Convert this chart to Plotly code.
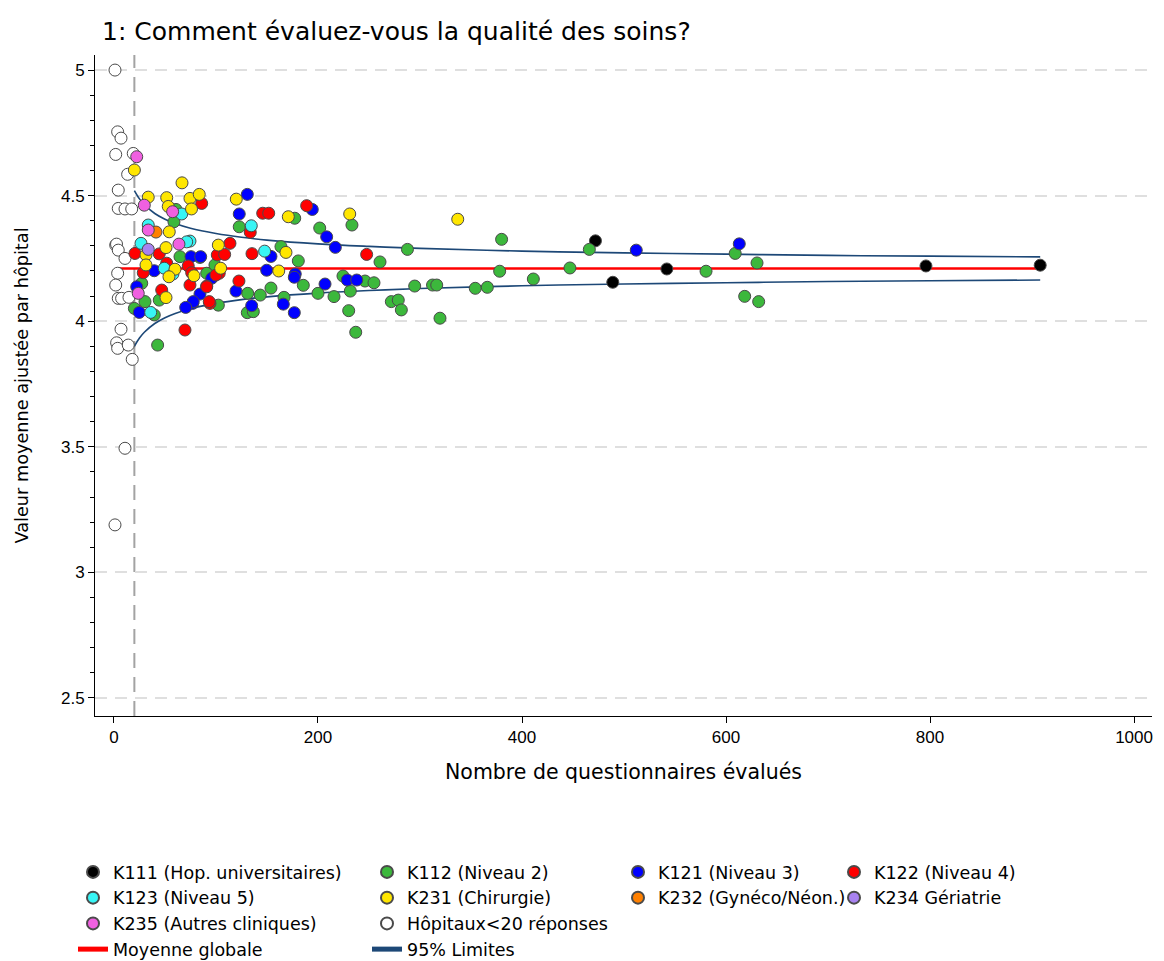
import plotly.graph_objects as go

# ---------------- data ----------------
k111_x = [472, 489, 542, 796, 908]
k111_y = [4.320, 4.155, 4.208, 4.220, 4.223]

k112_x = [177.2, 233.3, 122.8, 201.7, 163.7, 287.7, 260.8, 84.3, 180.7, 185.6, 224.5, 246.1, 254.9,
          294.8, 312.3, 316.4, 102.3, 131.1, 143.4, 153.9, 200.0, 215.7, 231.7, 166.7, 130.7, 136.6,
          230.1, 271.9, 278.7, 281.7, 237.0, 319.6, 380.0, 466.0, 609.0, 630.4, 354.2, 366.0, 378.1,
          411.1, 447.0, 580.4, 618.3, 632.0, 58.8, 60.8, 64.7, 90.9, 99.0, 27.2, 30.4, 44.4, 20.0,
          39.5, 42.8]
k112_y = [4.410, 4.383, 4.376, 4.371, 4.297, 4.286, 4.236, 4.254, 4.240, 4.143, 4.180, 4.160, 4.153,
          4.140, 4.144, 4.144, 4.064, 4.111, 4.104, 4.132, 4.111, 4.098, 4.120, 4.095, 4.034, 4.038,
          4.042, 4.078, 4.084, 4.045, 3.956, 4.012, 4.326, 4.286, 4.270, 4.232, 4.131, 4.135, 4.199,
          4.168, 4.212, 4.199, 4.099, 4.078, 4.396, 4.445, 4.257, 4.191, 4.224, 4.151, 4.078, 4.084,
          4.051, 4.025, 3.905]

k121_x = [130.7, 122.8, 194.4, 208.5, 217.0, 153.9, 149.7, 177.7, 176.8, 228.7, 238.0, 206.9, 119.6,
          95.8, 84.3, 77.2, 166.0, 135.0, 176.8, 512.0, 613.0, 75.5, 85.0, 39.5, 77.7, 70.3, 22.3, 24.8]
k121_y = [4.505, 4.427, 4.445, 4.336, 4.294, 4.258, 4.203, 4.188, 4.175, 4.164, 4.164, 4.148, 4.120,
          4.171, 4.108, 4.071, 4.068, 4.062, 4.034, 4.283, 4.308, 4.257, 4.257, 4.201, 4.078, 4.055,
          4.137, 4.035]

k122_x = [86.0, 145.8, 151.7, 188.9, 133.6, 247.7, 113.7, 101.3, 108.5, 135.3, 103.2, 122.5, 90.9,
          94.1, 69.6, 20.6, 44.4, 51.7, 28.7, 72.8, 76.2, 100.0, 74.5, 90.9, 93.4, 46.8]
k122_y = [4.469, 4.430, 4.430, 4.460, 4.354, 4.266, 4.310, 4.264, 4.266, 4.269, 4.191, 4.160, 4.140,
          4.071, 3.965, 4.270, 4.268, 4.231, 4.193, 4.220, 4.193, 4.184, 4.144, 4.137, 4.078, 4.124]

k123_x = [66.4, 134.6, 74.5, 147.7, 33.6, 26.5, 71.3, 49.3, 36.0, 57.8]
k123_y = [4.427, 4.380, 4.319, 4.279, 4.383, 4.310, 4.316, 4.211, 4.035, 4.188]

k231_x = [20.0, 66.7, 33.6, 51.7, 74.5, 83.6, 53.2, 76.0, 119.9, 170.9, 231.1, 337.0, 54.2, 51.0,
          102.3, 104.6, 161.5, 168.6, 78.4, 31.4, 31.4, 59.8, 53.9, 51.0]
k231_y = [4.602, 4.551, 4.494, 4.492, 4.489, 4.505, 4.457, 4.447, 4.486, 4.416, 4.427, 4.406, 4.356,
          4.293, 4.303, 4.211, 4.200, 4.274, 4.181, 4.264, 4.224, 4.207, 4.177, 4.094]

k232_x = [41.2]
k232_y = [4.355]

k234_x = [33.6]
k234_y = [4.286]

k235_x = [22.3, 29.7, 57.5, 33.6, 63.7, 23.8]
k235_y = [4.655, 4.462, 4.436, 4.363, 4.307, 4.111]

small_x = [1, 3.6, 6.9, 1.7, 18.9, 13.4, 4.2, 4.2, 10.8, 17.4, 1.7, 2.5, 4.2, 10.8, 3.6, 1.7, 4.2,
           7.5, 14.7, 6.9, 2.6, 3.6, 14.0, 17.9, 10.8, 1]
small_y = [5.000, 4.754, 4.729, 4.664, 4.668, 4.585, 4.522, 4.449, 4.447, 4.447, 4.303, 4.307, 4.283,
           4.250, 4.191, 4.144, 4.091, 4.091, 4.095, 3.968, 3.914, 3.892, 3.905, 3.848, 3.494, 3.189]

mean_x = [5, 908]
mean_y = [4.21, 4.21]

lim_n = [20, 25, 30, 40, 50, 60, 75, 100, 125, 150, 200, 250, 300, 400, 500, 600, 700, 800, 908]
lim_upper = [4.520, 4.487, 4.463, 4.429, 4.406, 4.389, 4.370, 4.349, 4.334, 4.323, 4.308, 4.298,
             4.290, 4.279, 4.272, 4.267, 4.262, 4.259, 4.256]
lim_lower = [3.900, 3.933, 3.957, 3.991, 4.014, 4.031, 4.050, 4.071, 4.086, 4.097, 4.112, 4.122,
             4.130, 4.141, 4.148, 4.153, 4.158, 4.161, 4.164]

threshold_n = 20

# ---------------- styling ----------------
FONT = "'DejaVu Sans', sans-serif"
TICKFONT = "Arial, 'Liberation Sans', sans-serif"
OUTLINE = dict(color="#4a4a4a", width=1)
MSIZE = 12

groups = [
    ("K111 (Hop. universitaires)", k111_x, k111_y, "#000000", "legend", 1),
    ("K112 (Niveau 2)", k112_x, k112_y, "#3cb83c", "legend2", 2),
    ("K121 (Niveau 3)", k121_x, k121_y, "#0000ff", "legend3", 3),
    ("K122 (Niveau 4)", k122_x, k122_y, "#ff0000", "legend4", 4),
    ("K123 (Niveau 5)", k123_x, k123_y, "#38f5f5", "legend", 5),
    ("K231 (Chirurgie)", k231_x, k231_y, "#ffe600", "legend2", 6),
    ("K232 (Gynéco/Néon.)", k232_x, k232_y, "#ff8000", "legend3", 7),
    ("K234 Gériatrie", k234_x, k234_y, "#a882f0", "legend4", 8),
    ("K235 (Autres cliniques)", k235_x, k235_y, "#f060e0", "legend", 9),
    ("Hôpitaux<20 réponses", small_x, small_y, "#ffffff", "legend2", 10),
]

fig = go.Figure()

# lines first so markers are drawn on top
fig.add_trace(go.Scatter(x=mean_x, y=mean_y, mode="lines", name="Moyenne globale",
                         line=dict(color="#ff0000", width=2.5), legend="legend", legendrank=11))
fig.add_trace(go.Scatter(x=lim_n, y=lim_upper, mode="lines", name="95% Limites",
                         line=dict(color="#1d4877", width=1.6, shape="spline"),
                         legend="legend2", legendrank=12, legendgroup="lim"))
fig.add_trace(go.Scatter(x=lim_n, y=lim_lower, mode="lines", name="95% Limites",
                         line=dict(color="#1d4877", width=1.6, shape="spline"),
                         legend="legend2", legendgroup="lim", showlegend=False))

order = [9, 0, 1, 2, 3, 4, 5, 6, 7, 8]
for i in order:
    name, xs, ys, col, lg, rank = groups[i]
    fig.add_trace(go.Scatter(x=xs, y=ys, mode="markers", name=name,
                             marker=dict(size=MSIZE, color=col, line=OUTLINE),
                             legend=lg, legendrank=rank))

fig.add_shape(type="line", xref="x", yref="paper", x0=threshold_n, x1=threshold_n, y0=0, y1=1,
              line=dict(color="#a3a3a3", width=2, dash="15px,9px"), layer="below")

PLOT_L, PLOT_W, PLOT_B, PLOT_H = 95, 1057, 716, 661


def px_x(px):
    return (px - PLOT_L) / PLOT_W


def px_y(py):
    return (PLOT_B - py) / PLOT_H


leg_common = dict(orientation="v", yanchor="top", xanchor="left", bgcolor="rgba(0,0,0,0)",
                  font=dict(family=FONT, size=17.5, color="#000000"), tracegroupgap=0,
                  itemsizing="constant")
LEG_Y = px_y(854)

fig.update_layout(
    width=1164, height=961,
    paper_bgcolor="white", plot_bgcolor="white",
    margin=dict(l=95, r=12, t=55, b=245, autoexpand=False),
    font=dict(family=FONT, size=17, color="#000000"),
    title=dict(text="1: Comment évaluez-vous la qualité des soins?", x=102 / 1164, xref="container",
               xanchor="left", y=1 - 31 / 961, yref="container", yanchor="middle",
               font=dict(family=FONT, size=25, color="#000000")),
    showlegend=True,
    legend=dict(x=px_x(73), y=LEG_Y, **leg_common),
    legend2=dict(x=px_x(367), y=LEG_Y, **leg_common),
    legend3=dict(x=px_x(618), y=LEG_Y, **leg_common),
    legend4=dict(x=px_x(834), y=LEG_Y, **leg_common),
    xaxis=dict(range=[-18.6, 1017.6], tickvals=[0, 200, 400, 600, 800, 1000],
               ticks="outside", ticklen=6, tickcolor="#000000",
               showline=True, linecolor="#000000", linewidth=1, showgrid=False, zeroline=False,
               tickfont=dict(family=TICKFONT, size=17),
               title=dict(text="Nombre de questionnaires évalués", standoff=18,
                          font=dict(family=FONT, size=20.5))),
    yaxis=dict(range=[2.428, 5.060], tickvals=[2.5, 3, 3.5, 4, 4.5, 5],
               ticktext=["2.5", "3", "3.5", "4", "4.5", "5"],
               ticks="outside", ticklen=6, tickcolor="#000000",
               minor=dict(dtick=0.1, tick0=0, ticks="outside", ticklen=4, tickcolor="#000000",
                          showgrid=False),
               showline=True, linecolor="#000000", linewidth=1, zeroline=False,
               showgrid=True, gridcolor="#dfdfdf", griddash="12px,8px", gridwidth=1.5,
               tickfont=dict(family=TICKFONT, size=17),
               title=dict(text="Valeur moyenne ajustée par hôpital", standoff=27,
                          font=dict(family=FONT, size=17.7))),
)

fig.write_html("out.html", config={"displayModeBar": False},
               post_script="document.body.style.margin='0px';document.body.style.overflow='hidden';")
